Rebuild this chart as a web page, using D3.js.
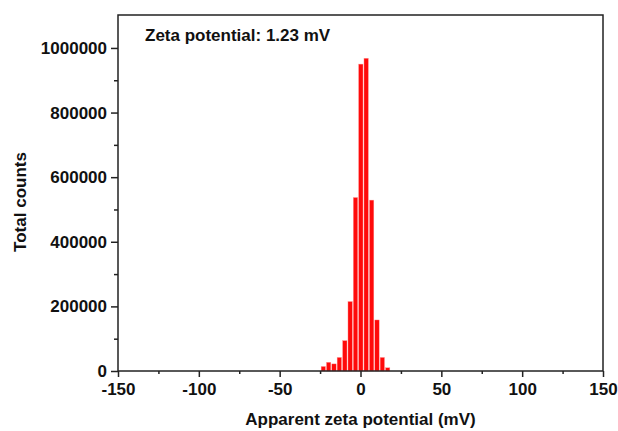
<!DOCTYPE html>
<html>
<head>
<meta charset="utf-8">
<script src="https://cdn.jsdelivr.net/npm/d3@7"></script>
<style>
  body { margin: 0; background: #fff; }
  text { font-family: "Liberation Sans", Arial, sans-serif; font-weight: bold; fill: #111; }
</style>
</head>
<body>
<div id="chart"></div>
<script>
// bin centres (mV) and counts
const binCenters = [-23.0, -19.7, -16.4, -13.1, -9.7, -6.4, -3.1, 0.2, 3.5, 6.9, 10.2, 13.5, 16.8];
const binCounts = [14000, 27000, 22000, 42000, 94000, 215000, 537000, 950000, 968000, 529000, 158000, 42000, 10000];
const binWidth = 3.32;
const xTicks = [-150, -100, -50, 0, 50, 100, 150];
const xMinor = [-125, -75, -25, 25, 75, 125];
const yTicks = [0, 200000, 400000, 600000, 800000, 1000000];
const yMinor = [100000, 300000, 500000, 700000, 900000];

var margin = {top: 15, right: 15, bottom: 60, left: 118},
    width = 618 - margin.left - margin.right,
    height = 431 - margin.top - margin.bottom;

var svg = d3.select("#chart").append("svg")
    .attr("width", 618)
    .attr("height", 431)
    .append("g")
    .attr("transform", "translate(" + margin.left + "," + margin.top + ")");

var xScale = d3.scaleLinear()
    .domain([-150, 150])
    .range([0, width]);

var yScale = d3.scaleLinear()
    .domain([0, 1102000])
    .range([height, 0]);

// bars
svg.selectAll("rect.bar")
    .data(binCenters)
    .join("rect")
    .attr("class", "bar")
    .attr("x", d => xScale(d - binWidth / 2) + 0.5)
    .attr("width", xScale(binWidth) - xScale(0) - 1)
    .attr("y", (d, i) => yScale(binCounts[i]))
    .attr("height", (d, i) => yScale(0) - yScale(binCounts[i]))
    .attr("fill", "#ff0a0a")
    .attr("stroke", "#ff9a9a")
    .attr("stroke-width", 0.4);

// frame
svg.append("rect")
    .attr("width", width)
    .attr("height", height)
    .attr("fill", "none")
    .attr("stroke", "#222")
    .attr("stroke-width", 1.5);

const fmt = d => String(d);   // plain hyphen minus, like the original

var xAxis = d3.axisBottom(xScale)
    .tickValues(xTicks)
    .tickSize(6)
    .tickPadding(6)
    .tickFormat(fmt);

var xAxisMinor = d3.axisBottom(xScale)
    .tickValues(xMinor)
    .tickSize(3)
    .tickFormat("");

var yAxis = d3.axisLeft(yScale)
    .tickValues(yTicks)
    .tickSize(7)
    .tickPadding(4)
    .tickFormat(fmt);

var yAxisMinor = d3.axisLeft(yScale)
    .tickValues(yMinor)
    .tickSize(4)
    .tickFormat("");

function styleAxis(g) {
    g.select(".domain").remove();
    g.selectAll("line").attr("stroke", "#222").attr("stroke-width", 1.5);
    g.selectAll("text").style("font-size", "17px").style("font-weight", "bold")
        .style("font-family", "'Liberation Sans', Arial, sans-serif").attr("fill", "#111");
}

svg.append("g")
    .attr("transform", "translate(0," + height + ")")
    .call(xAxis)
    .call(styleAxis);

svg.append("g")
    .attr("transform", "translate(0," + height + ")")
    .call(xAxisMinor)
    .call(styleAxis);

svg.append("g")
    .call(yAxis)
    .call(styleAxis);

svg.append("g")
    .call(yAxisMinor)
    .call(styleAxis);

// axis titles
svg.append("text")
    .attr("x", width / 2)
    .attr("y", height + 54)
    .attr("text-anchor", "middle")
    .style("font-size", "17px")
    .text("Apparent zeta potential (mV)");

svg.append("text")
    .attr("transform", "translate(" + (-92) + "," + (height / 2 + 9) + ") rotate(-90)")
    .attr("text-anchor", "middle")
    .style("font-size", "17px")
    .text("Total counts");

// annotation
svg.append("text")
    .attr("x", 27)
    .attr("y", 26)
    .style("font-size", "17px")
    .text("Zeta potential: 1.23 mV");
</script>
</body>
</html>
